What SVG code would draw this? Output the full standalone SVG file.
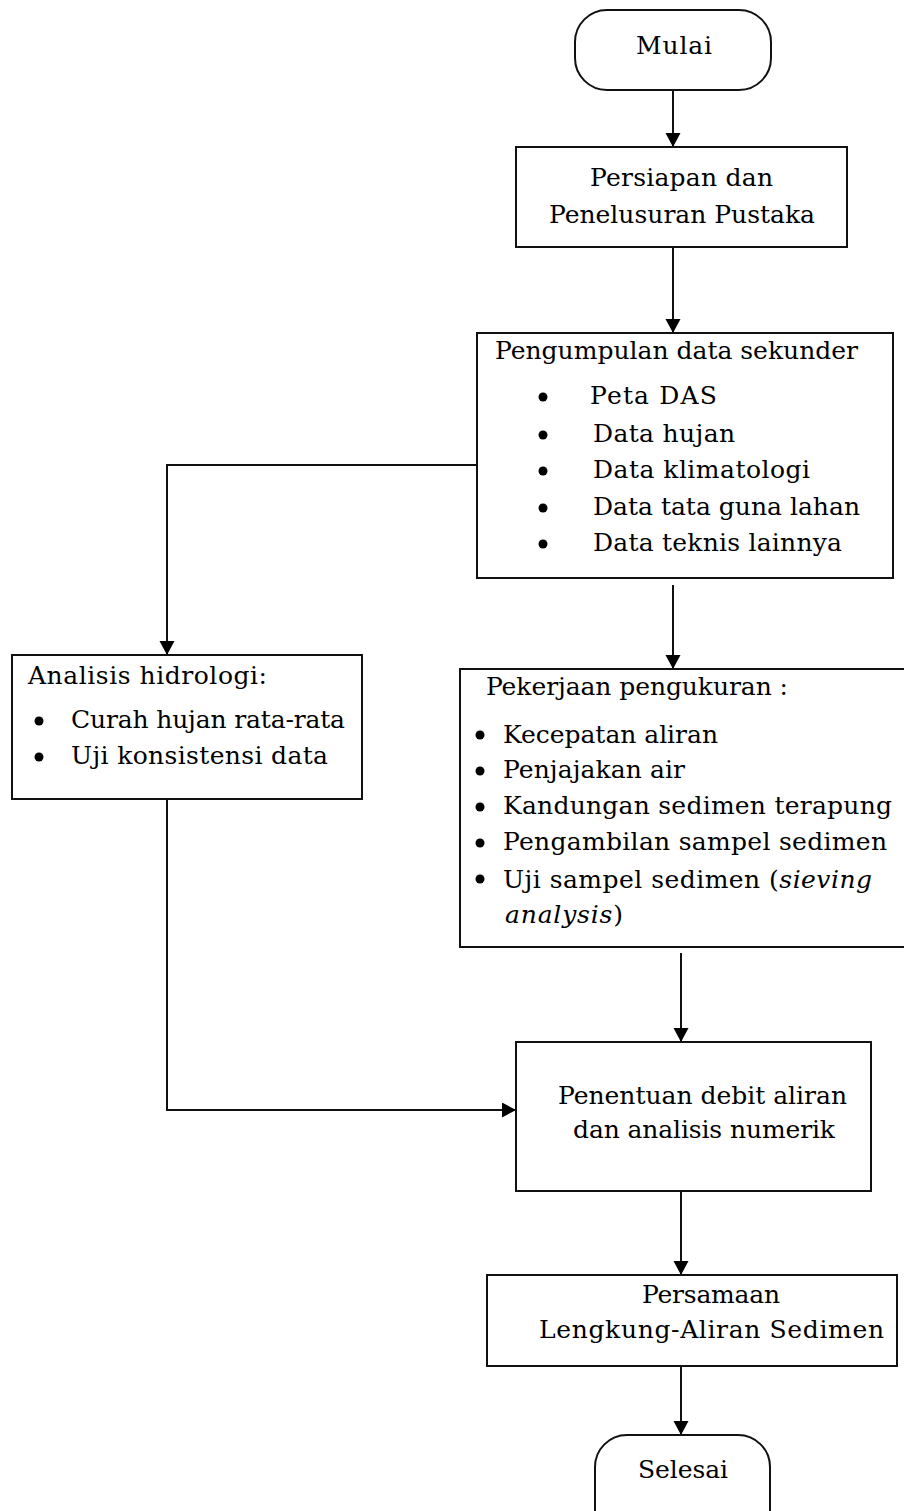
<svg xmlns="http://www.w3.org/2000/svg" width="904" height="1511" viewBox="0 0 904 1511">
<style>
.box{fill:#fff;stroke:#111;stroke-width:2}
.ln{fill:none;stroke:#111;stroke-width:2}
text{font-family:"DejaVu Serif","Liberation Serif",serif;font-size:25px;fill:#000}
.it{font-style:italic}
.b{fill:#000}
</style>
<defs>
<marker id="ah" markerUnits="userSpaceOnUse" markerWidth="16" markerHeight="16" refX="14" refY="7.5" orient="auto">
<path d="M0,0 L14,7.5 L0,15 z" fill="#000"/>
</marker>
</defs>
<rect width="904" height="1511" fill="#fff"/>
<g id="connectors">
<line class="ln" x1="673" y1="90" x2="673" y2="147" marker-end="url(#ah)"/>
<line class="ln" x1="673" y1="247" x2="673" y2="333" marker-end="url(#ah)"/>
<polyline class="ln" points="477,465 167,465 167,655" marker-end="url(#ah)"/>
<line class="ln" x1="673" y1="585" x2="673" y2="669" marker-end="url(#ah)"/>
<line class="ln" x1="681" y1="953" x2="681" y2="1042" marker-end="url(#ah)"/>
<polyline class="ln" points="167,799 167,1110 516,1110" marker-end="url(#ah)"/>
<line class="ln" x1="681" y1="1191" x2="681" y2="1275" marker-end="url(#ah)"/>
<line class="ln" x1="681" y1="1366" x2="681" y2="1435" marker-end="url(#ah)"/>
</g>
<g id="mulai">
<rect class="box" x="575" y="10" width="196" height="80" rx="32"/>
<text x="636" y="54" textLength="76" lengthAdjust="spacing">Mulai</text>
</g>
<g id="persiapan">
<rect class="box" x="516" y="147" width="331" height="100"/>
<text x="590" y="186" textLength="183" lengthAdjust="spacing">Persiapan dan</text>
<text x="549" y="223" textLength="266" lengthAdjust="spacing">Penelusuran Pustaka</text>
</g>
<g id="pengumpulan">
<rect class="box" x="477" y="333" width="416" height="245"/>
<text x="495" y="359" textLength="363" lengthAdjust="spacing">Pengumpulan data sekunder</text>
<circle class="b" cx="543" cy="397" r="4.5"/>
<circle class="b" cx="543" cy="435" r="4.5"/>
<circle class="b" cx="543" cy="471" r="4.5"/>
<circle class="b" cx="543" cy="508" r="4.5"/>
<circle class="b" cx="543" cy="544" r="4.5"/>
<text x="590" y="404" textLength="127" lengthAdjust="spacing">Peta DAS</text>
<text x="593" y="442" textLength="142" lengthAdjust="spacing">Data hujan</text>
<text x="593" y="478" textLength="217" lengthAdjust="spacing">Data klimatologi</text>
<text x="593" y="515" textLength="267" lengthAdjust="spacing">Data tata guna lahan</text>
<text x="593" y="551" textLength="249" lengthAdjust="spacing">Data teknis lainnya</text>
</g>
<g id="analisis">
<rect class="box" x="12" y="655" width="350" height="144"/>
<text x="28" y="684" textLength="239" lengthAdjust="spacing">Analisis hidrologi:</text>
<circle class="b" cx="39" cy="721" r="4.5"/>
<circle class="b" cx="39" cy="757" r="4.5"/>
<text x="71" y="728" textLength="274" lengthAdjust="spacing">Curah hujan rata-rata</text>
<text x="71" y="764" textLength="257" lengthAdjust="spacing">Uji konsistensi data</text>
</g>
<g id="pekerjaan">
<rect class="box" x="460" y="669" width="446" height="278"/>
<text x="486" y="695" textLength="302" lengthAdjust="spacing">Pekerjaan pengukuran :</text>
<circle class="b" cx="480" cy="735" r="4.5"/>
<circle class="b" cx="480" cy="771" r="4.5"/>
<circle class="b" cx="480" cy="807" r="4.5"/>
<circle class="b" cx="480" cy="843" r="4.5"/>
<circle class="b" cx="480" cy="879" r="4.5"/>
<text x="503" y="743" textLength="215" lengthAdjust="spacing">Kecepatan aliran</text>
<text x="503" y="778" textLength="182" lengthAdjust="spacing">Penjajakan air</text>
<text x="503" y="814" textLength="389" lengthAdjust="spacing">Kandungan sedimen terapung</text>
<text x="503" y="850" textLength="384" lengthAdjust="spacing">Pengambilan sampel sedimen</text>
<text x="503" y="888" textLength="369" lengthAdjust="spacing">Uji sampel sedimen (<tspan class="it">sieving</tspan></text>
<text x="505" y="923" textLength="118" lengthAdjust="spacing"><tspan class="it">analysis</tspan>)</text>
</g>
<g id="penentuan">
<rect class="box" x="516" y="1042" width="355" height="149"/>
<text x="558" y="1104" textLength="289" lengthAdjust="spacing">Penentuan debit aliran</text>
<text x="573" y="1138" textLength="262" lengthAdjust="spacing">dan analisis numerik</text>
</g>
<g id="persamaan">
<rect class="box" x="487" y="1275" width="410" height="91"/>
<text x="642" y="1303" textLength="138" lengthAdjust="spacing">Persamaan</text>
<text x="539" y="1338" textLength="345" lengthAdjust="spacing">Lengkung-Aliran Sedimen</text>
</g>
<g id="selesai">
<rect class="box" x="595" y="1435" width="175" height="110" rx="32"/>
<text x="638" y="1478" textLength="90" lengthAdjust="spacing">Selesai</text>
</g>
</svg>
